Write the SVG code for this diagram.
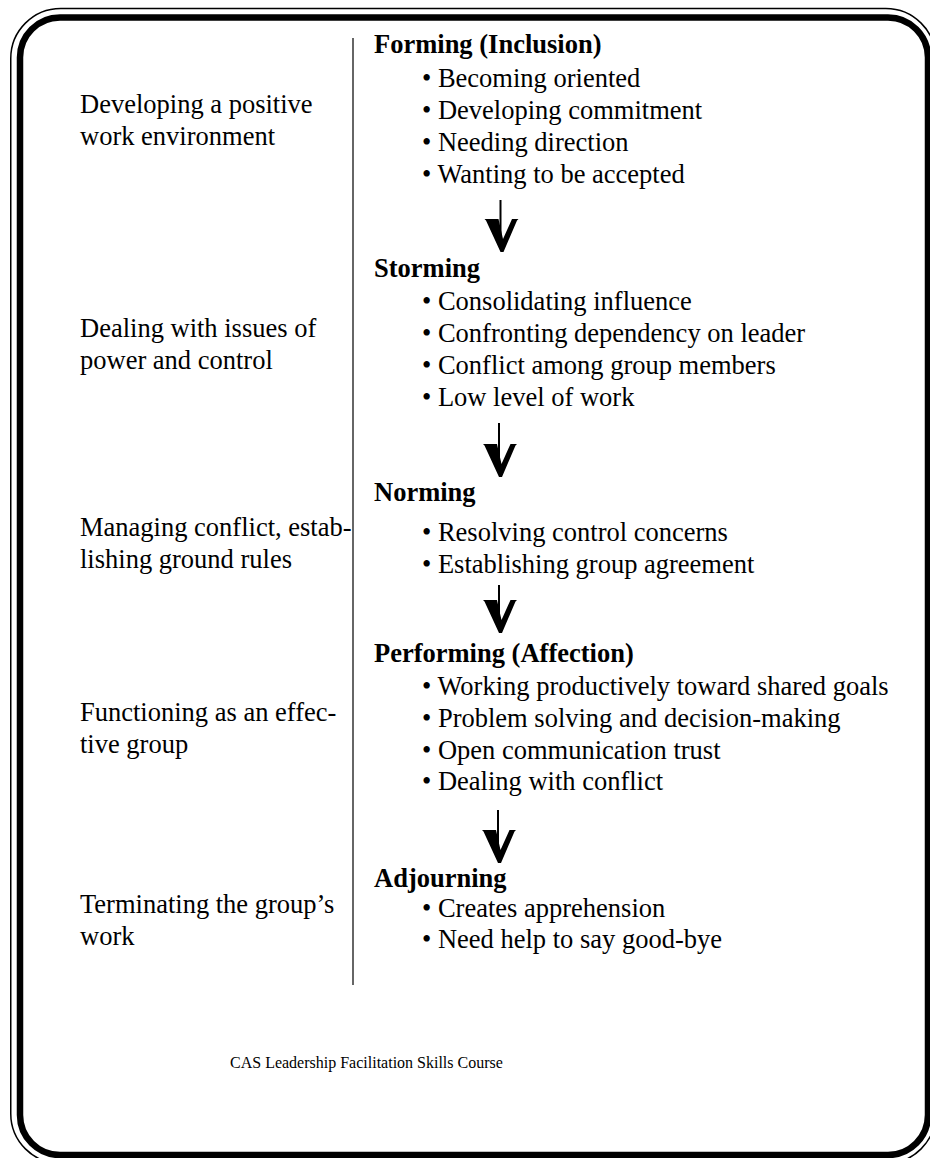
<svg xmlns="http://www.w3.org/2000/svg" width="930" height="1158" viewBox="0 0 930 1158">
<style>
text{font-family:"Liberation Serif","Times New Roman",serif;fill:#000}
.t{font-size:26.5px}
.h{font-size:26.5px;font-weight:bold}
.f{font-size:16px}
.shaft{stroke:#000;stroke-width:2;fill:none}
.head{fill:#000;stroke:none}
</style>
<defs>
<g id="arrowhead">
<polygon class="head" points="-16.5,-33 -2.5,-33 2,-13 11,-33 17.5,-33 16,-31.5 2.5,0 -0.5,0 -15,-31.5"/>
</g>
</defs>
<rect x="10.75" y="8.5" width="925" height="1155" rx="50" fill="none" stroke="#000" stroke-width="1.5"/>
<rect x="20" y="17.5" width="908" height="1137.5" rx="40" fill="#fff" stroke="#000" stroke-width="6.5"/>
<line x1="353" y1="38" x2="353" y2="985" stroke="#333" stroke-width="1.5"/>
<g id="connectors">
<line class="shaft" x1="500.5" y1="200" x2="500.5" y2="240"/>
<use href="#arrowhead" x="501" y="252"/>
<line class="shaft" x1="499" y1="423" x2="499" y2="465"/>
<use href="#arrowhead" x="499.5" y="477"/>
<line class="shaft" x1="499" y1="585" x2="499" y2="621"/>
<use href="#arrowhead" x="499.5" y="633"/>
<line class="shaft" x1="498" y1="810" x2="498" y2="851"/>
<use href="#arrowhead" x="498.5" y="863"/>
</g>
<g id="forming">
<text class="t" x="80" y="113">Developing a positive</text>
<text class="t" x="80" y="145">work environment</text>
<text class="h" x="374" y="53">Forming (Inclusion)</text>
<text class="t" x="422" y="87">• Becoming oriented</text>
<text class="t" x="422" y="119">• Developing commitment</text>
<text class="t" x="422" y="151">• Needing direction</text>
<text class="t" x="422" y="182.5">• Wanting to be accepted</text>
</g>
<g id="storming">
<text class="t" x="80" y="337">Dealing with issues of</text>
<text class="t" x="80" y="369">power and control</text>
<text class="h" x="374" y="277">Storming</text>
<text class="t" x="422" y="310">• Consolidating influence</text>
<text class="t" x="422" y="342">• Confronting dependency on leader</text>
<text class="t" x="422" y="374">• Conflict among group members</text>
<text class="t" x="422" y="406">• Low level of work</text>
</g>
<g id="norming">
<text class="t" x="80" y="536">Managing conflict, estab-</text>
<text class="t" x="80" y="568">lishing ground rules</text>
<text class="h" x="374" y="501">Norming</text>
<text class="t" x="422" y="541">• Resolving control concerns</text>
<text class="t" x="422" y="573">• Establishing group agreement</text>
</g>
<g id="performing">
<text class="t" x="80" y="721">Functioning as an effec-</text>
<text class="t" x="80" y="753">tive group</text>
<text class="h" x="374" y="662">Performing (Affection)</text>
<text class="t" x="422" y="695">• Working productively toward shared goals</text>
<text class="t" x="422" y="727">• Problem solving and decision-making</text>
<text class="t" x="422" y="759">• Open communication trust</text>
<text class="t" x="422" y="790">• Dealing with conflict</text>
</g>
<g id="adjourning">
<text class="t" x="80" y="913">Terminating the group’s</text>
<text class="t" x="80" y="945">work</text>
<text class="h" x="374" y="887">Adjourning</text>
<text class="t" x="422" y="917">• Creates apprehension</text>
<text class="t" x="422" y="948">• Need help to say good-bye</text>
</g>
<g id="footer">
<text class="f" x="230" y="1068">CAS Leadership Facilitation Skills Course</text>
</g>
</svg>
